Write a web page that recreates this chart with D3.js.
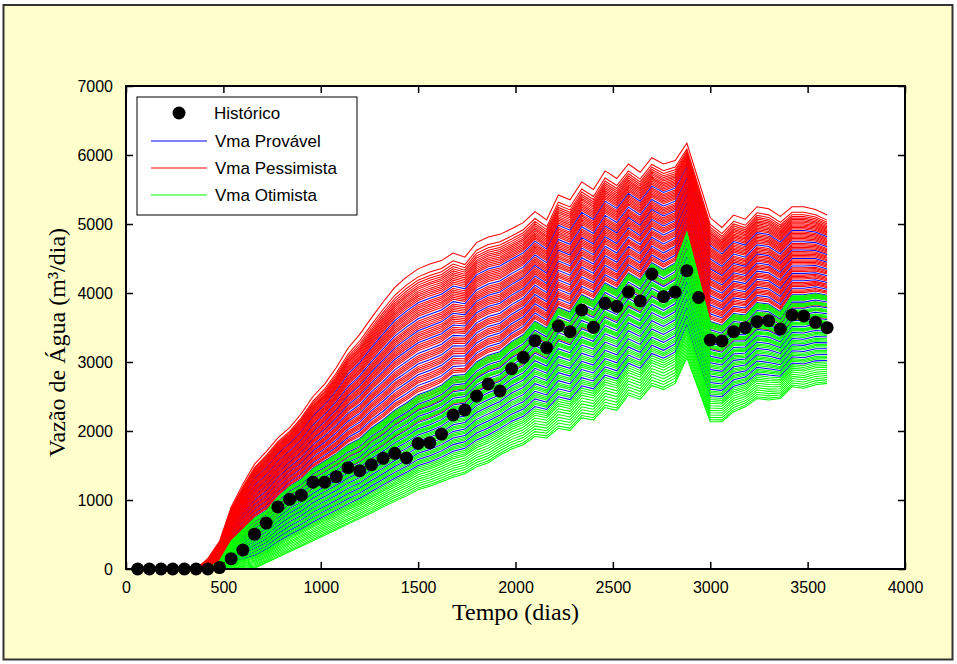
<!DOCTYPE html>
<html><head><meta charset="utf-8">
<script src="https://cdn.jsdelivr.net/npm/d3@7/dist/d3.min.js"></script>
<style>body{margin:0;background:#fff}</style></head>
<body><svg id="c" width="957" height="664"></svg>
<script>
// ---- data ----
const days = [60,120,180,240,300,360,420,480,540,600,660,720,780,840,900,960,1020,1080,1140,1200,
  1260,1320,1380,1440,1500,1560,1620,1680,1740,1800,1860,1920,1980,2040,2100,2160,2220,2280,2340,2400,
  2460,2520,2580,2640,2700,2760,2820,2880,2940,3000,3060,3120,3180,3240,3300,3360,3420,3480,3540,3600];
const historico = [0,0,0,0,0,0,0,20,150,275,505,665,900,1010,1070,1257,1257,1338,1468,1425,
  1512,1604,1676,1609,1820,1830,1956,2232,2304,2507,2681,2580,2903,3068,3309,3208,3522,3440,3754,3502,
  3850,3807,4014,3884,4275,3947,4014,4323,3935,3319,3304,3440,3498,3585,3599,3478,3681,3667,3575,3498];
// upper envelope of the ensemble (highest "Pessimista" run)
const envTop = [0,0,0,0,0,0,150,400,900,1230,1520,1700,1900,2050,2250,2500,2680,2920,3200,3400,
  3640,3870,4080,4230,4350,4420,4470,4580,4520,4730,4810,4850,4930,5020,5180,5060,5420,5350,5610,5500,
  5770,5660,5870,5750,5960,5870,5920,6170,5630,5090,4950,5130,5070,5250,5220,5110,5250,5250,5210,5130];
// boundary between the "Otimista" and "Pessimista" bundles
const envMid = [0,0,0,0,0,0,0,100,380,540,700,800,1000,1150,1250,1400,1500,1600,1720,1800,
  1950,2060,2200,2300,2420,2480,2560,2700,2720,2900,3000,3050,3200,3300,3500,3400,3700,3630,3880,3800,
  4050,3960,4200,4100,4350,4250,4350,4820,4160,3500,3450,3620,3600,3780,3760,3650,3900,3900,3930,3900];
// lower envelope (lowest "Otimista" run)
const envBot = [0,0,0,0,0,0,0,0,0,0,10,90,170,250,330,410,490,570,650,730,
  810,900,980,1060,1150,1200,1265,1330,1380,1480,1540,1650,1740,1800,1920,1900,2040,2010,2190,2160,
  2340,2300,2520,2460,2660,2600,2690,3060,2600,2135,2135,2280,2350,2470,2450,2470,2640,2620,2670,2690];
// position of each run inside the envelopes (0 = bottom, 1 = mid, 2 = top)
const posProvavel = [1.745,1.625,1.535,1.445,1.365,1.285,1.205,1.125,1.055,0.975,0.905,0.835,0.765,
  0.695,0.625,0.555,0.485,0.415,0.345,0.275];
const posPessimista = [2.0,1.94,1.915,1.895,1.878,1.862,1.848,1.833,1.818,1.804,1.79,1.776,1.762,
  1.728,1.714,1.7,1.686,1.672,1.658,1.644,1.606,1.592,1.578,1.564,1.55,1.518,1.504,1.49,1.476,1.462,
  1.428,1.414,1.4,1.386,1.346,1.332,1.318,1.304,1.266,1.252,1.238,1.224,1.186,1.172,1.158,1.144,
  1.106,1.092,1.078,1.036,1.02,1.0,0.955,0.92,0.86,0.78];
const posOtimista = [1.045,1.035,1.025,1.015,1.005,0.995,0.955,0.945,0.935,0.925,0.885,0.875,0.865,
  0.855,0.815,0.805,0.795,0.785,0.745,0.735,0.725,0.715,0.675,0.665,0.655,0.645,0.605,0.59,0.575,
  0.535,0.52,0.505,0.465,0.45,0.435,0.395,0.38,0.365,0.325,0.31,0.295,0.255,0.235,0.215,0.195,0.17,
  0.145,0.12,0.095,0.07,0.045,0.02,0.0];
const xTicks = [0,500,1000,1500,2000,2500,3000,3500,4000];
const yTicks = [0,1000,2000,3000,4000,5000,6000,7000];
const legendLabels = ["Histórico","Vma Provável","Vma Pessimista","Vma Otimista"];
const seriesColors = {prov:"#0000ff", pess:"#ff0000", otim:"#00ff00"};

// ---- drawing ----
const svg = d3.select("#c");
svg.append("rect").attr("x",3.5).attr("y",5).attr("width",949).attr("height",654.5)
  .attr("fill","#ffffcc").attr("stroke","#333").attr("stroke-width",2);

const L=126, R=905, T=86, B=569;
const x = d3.scaleLinear().domain([0,4000]).range([L,R]);
const y = d3.scaleLinear().domain([0,7000]).range([B,T]);

svg.append("rect").attr("x",L).attr("y",T).attr("width",R-L).attr("height",B-T).attr("fill","#fff");

function run(p){
  return days.map((t,i)=>{
    const v = p<=1 ? envBot[i]+p*(envMid[i]-envBot[i]) : envMid[i]+(p-1)*(envTop[i]-envMid[i]);
    return [t,v];
  });
}
const line = d3.line().x(d=>x(d[0])).y(d=>y(d[1]));
const plot = svg.append("g");
[[posProvavel,seriesColors.prov],[posPessimista,seriesColors.pess],[posOtimista,seriesColors.otim]]
  .forEach(([arr,col])=>{
    plot.selectAll(null).data(arr).enter().append("path")
      .attr("d",p=>line(run(p))).attr("fill","none").attr("stroke",col).attr("stroke-width",1.05);
  });

plot.selectAll("circle.h").data(days).enter().append("circle")
  .attr("cx",(d)=>x(d)).attr("cy",(d,i)=>y(historico[i])).attr("r",6.5).attr("fill","#000");

// axes
const fontT = "'Liberation Sans', Arial, sans-serif";
function styleAxis(g){ g.select(".domain").remove(); g.selectAll("line").attr("stroke","#000").attr("stroke-width",1.5);
  g.selectAll("text").attr("font-family",fontT).attr("font-size",16).attr("fill","#000"); }
svg.append("g").attr("transform",`translate(0,${B})`)
  .call(d3.axisBottom(x).tickValues(xTicks).tickSize(-7).tickPadding(13).tickFormat(d3.format("d"))).call(styleAxis);
svg.append("g").attr("transform",`translate(0,${T})`)
  .call(d3.axisTop(x).tickValues(xTicks).tickSize(-7).tickFormat("")).call(styleAxis);
svg.append("g").attr("transform",`translate(${L},0)`)
  .call(d3.axisLeft(y).tickValues(yTicks).tickSize(-7).tickPadding(13).tickFormat(d3.format("d"))).call(styleAxis);
svg.append("g").attr("transform",`translate(${R},0)`)
  .call(d3.axisRight(y).tickValues(yTicks).tickSize(-7).tickFormat("")).call(styleAxis);

svg.append("rect").attr("x",L).attr("y",T).attr("width",R-L).attr("height",B-T)
  .attr("fill","none").attr("stroke","#000").attr("stroke-width",2);

// axis titles
const fontS = "'Liberation Serif','Times New Roman',serif";
svg.append("text").attr("x",(L+R)/2).attr("y",620).attr("text-anchor","middle")
  .attr("font-family",fontS).attr("font-size",24).text("Tempo (dias)");
svg.append("text").attr("transform",`translate(65,${(T+B)/2+15}) rotate(-90)`).attr("text-anchor","middle")
  .attr("font-family",fontS).attr("font-size",24).text("Vazão de Água (m³/dia)");

// legend
const lg = svg.append("g");
lg.append("rect").attr("x",137).attr("y",97).attr("width",220).attr("height",118)
  .attr("fill","#fff").attr("stroke","#000").attr("stroke-width",1);
const rowsY = [113,141,168,195];
lg.append("circle").attr("cx",179).attr("cy",rowsY[0]).attr("r",6.5).attr("fill","#000");
[seriesColors.prov,seriesColors.pess,seriesColors.otim].forEach((c,i)=>{
  lg.append("line").attr("x1",151).attr("x2",207).attr("y1",rowsY[i+1]).attr("y2",rowsY[i+1])
    .attr("stroke",c).attr("stroke-width",1.2);
});
legendLabels.forEach((t,i)=>{
  lg.append("text").attr("x",i==0?214:215).attr("y",rowsY[i]+6).attr("font-family",fontT)
    .attr("font-size",17).text(t);
});
</script></body></html>
